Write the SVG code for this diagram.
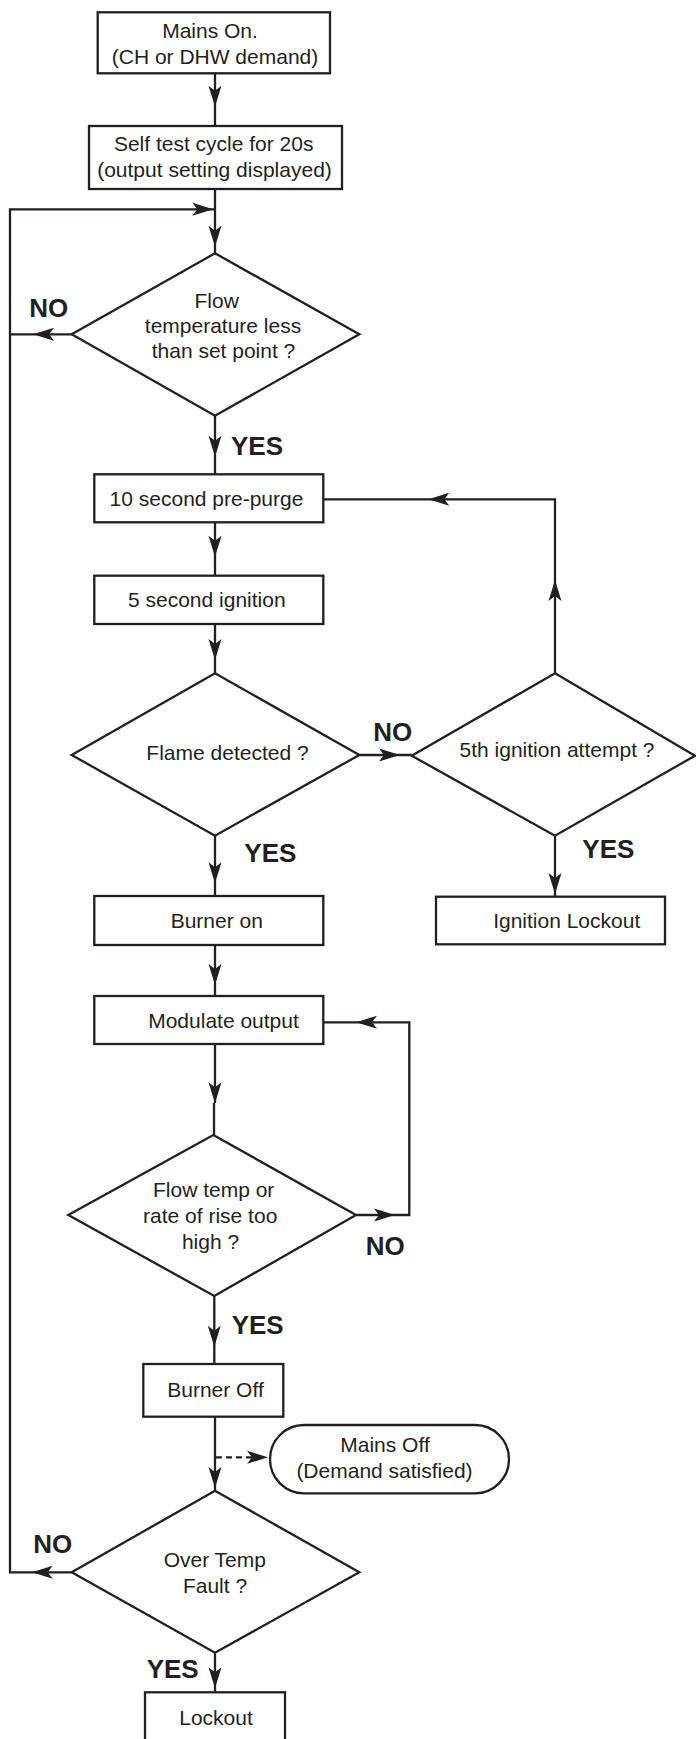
<svg xmlns="http://www.w3.org/2000/svg" xmlns:xlink="http://www.w3.org/1999/xlink" width="696" height="1739" viewBox="0 0 696 1739">
<style>
.box{fill:#fff;stroke:#231f20;stroke-width:2.3}
.ln{fill:none;stroke:#231f20;stroke-width:2.3}
.dash{fill:none;stroke:#231f20;stroke-width:2.3;stroke-dasharray:6 4}
.t{font-family:"Liberation Sans",Arial,sans-serif;font-size:21px;fill:#231f20;text-anchor:middle}
.lb{font-family:"Liberation Sans",Arial,sans-serif;font-size:26px;font-weight:bold;fill:#231f20}
.ah{fill:#231f20}
</style>
<defs>
<path id="ah" d="M0,0 L-21,-6.5 L-16,0 L-21,6.5 Z"/>
</defs>
<rect width="696" height="1739" fill="#fff"/>

<g id="connectors">
<line class="ln" x1="215" y1="73.3" x2="215" y2="126"/>
<use href="#ah" class="ah" transform="translate(215,106.7) rotate(90)"/>
<line class="ln" x1="215" y1="189" x2="215" y2="253.3"/>
<use href="#ah" class="ah" transform="translate(215,246.7) rotate(90)"/>
<polyline class="ln" points="71.7,1572.3 10,1572.3 10,209.3 215,209.3"/>
<use href="#ah" class="ah" transform="translate(31.7,1572.3) rotate(180)"/>
<use href="#ah" class="ah" transform="translate(213.3,209.3)"/>
<line class="ln" x1="71.7" y1="334.3" x2="10" y2="334.3"/>
<use href="#ah" class="ah" transform="translate(33,334.3) rotate(180)"/>
<line class="ln" x1="215" y1="415.7" x2="215" y2="474.3"/>
<use href="#ah" class="ah" transform="translate(215,456.7) rotate(90)"/>
<line class="ln" x1="215" y1="522.3" x2="215" y2="575.7"/>
<use href="#ah" class="ah" transform="translate(215,556.7) rotate(90)"/>
<line class="ln" x1="215" y1="624" x2="215" y2="673.3"/>
<use href="#ah" class="ah" transform="translate(215,660) rotate(90)"/>
<line class="ln" x1="359.3" y1="755" x2="411.7" y2="755"/>
<use href="#ah" class="ah" transform="translate(400,755)"/>
<line class="ln" x1="215" y1="835.7" x2="215" y2="896"/>
<use href="#ah" class="ah" transform="translate(215,883.3) rotate(90)"/>
<polyline class="ln" points="555,673.3 555,499.3 323.3,499.3"/>
<use href="#ah" class="ah" transform="translate(555,580) rotate(-90)"/>
<use href="#ah" class="ah" transform="translate(428.3,499.3) rotate(180)"/>
<line class="ln" x1="555" y1="835.7" x2="555" y2="896.7"/>
<use href="#ah" class="ah" transform="translate(555,894) rotate(90)"/>
<line class="ln" x1="215" y1="945" x2="215" y2="996"/>
<use href="#ah" class="ah" transform="translate(215,985) rotate(90)"/>
<line class="ln" x1="215" y1="1044" x2="215" y2="1103"/>
<line class="ln" x1="214" y1="1103" x2="214" y2="1135"/>
<use href="#ah" class="ah" transform="translate(215,1103.3) rotate(90)"/>
<polyline class="ln" points="356,1215 409.3,1215 409.3,1022.3 323.3,1022.3"/>
<use href="#ah" class="ah" transform="translate(395,1215)"/>
<use href="#ah" class="ah" transform="translate(356,1022.3) rotate(180)"/>
<line class="ln" x1="214.3" y1="1296" x2="214.3" y2="1364"/>
<use href="#ah" class="ah" transform="translate(214.3,1346.7) rotate(90)"/>
<line class="ln" x1="215" y1="1416.7" x2="215" y2="1490.7"/>
<use href="#ah" class="ah" transform="translate(215,1488) rotate(90)"/>
<line class="dash" x1="216" y1="1457.3" x2="252" y2="1457.3"/>
<use href="#ah" class="ah" transform="translate(268,1457.3)"/>
<line class="ln" x1="215" y1="1652.7" x2="215" y2="1692.3"/>
<use href="#ah" class="ah" transform="translate(215,1688.3) rotate(90)"/>
</g>

<g id="mains-on">
<rect class="box" x="97.7" y="12.3" width="232.3" height="61"/>
<text class="t" x="210" y="38">Mains On.</text>
<text class="t" x="215" y="64">(CH or DHW demand)</text>
</g>
<g id="self-test">
<rect class="box" x="89" y="126" width="253" height="63"/>
<text class="t" x="213.7" y="151">Self test cycle for 20s</text>
<text class="t" x="214.5" y="177">(output setting displayed)</text>
</g>
<g id="flow-temp-check">
<polygon class="box" points="215,253.3 359.3,334.3 215,415.7 71.7,334.3"/>
<text class="t" x="216.7" y="307.5">Flow</text>
<text class="t" x="223" y="332.5">temperature less</text>
<text class="t" x="223.5" y="358">than set point ?</text>
<text class="lb" x="29.3" y="317.3">NO</text>
<text class="lb" x="231" y="455">YES</text>
</g>
<g id="pre-purge">
<rect class="box" x="94.3" y="474.3" width="229" height="48"/>
<text class="t" x="206.5" y="505.7">10 second pre-purge</text>
</g>
<g id="ignition">
<rect class="box" x="94.3" y="575.7" width="229" height="48.3"/>
<text class="t" x="206.8" y="606.7">5 second ignition</text>
</g>
<g id="flame-detected">
<polygon class="box" points="215,673.3 359.3,755 215,835.7 71.7,755"/>
<text class="t" x="227.5" y="760">Flame detected ?</text>
<text class="lb" x="373.3" y="740.7">NO</text>
<text class="lb" x="244.3" y="862.3">YES</text>
</g>
<g id="fifth-attempt">
<polygon class="box" points="555,673.3 695,755.7 555,835.7 411.7,755.7"/>
<text class="t" x="557" y="757.3">5th ignition attempt ?</text>
<text class="lb" x="582.3" y="858.3">YES</text>
</g>
<g id="burner-on">
<rect class="box" x="94.3" y="896" width="229" height="49"/>
<text class="t" x="216.8" y="928.3">Burner on</text>
</g>
<g id="ignition-lockout">
<rect class="box" x="436" y="896.7" width="229" height="47.6"/>
<text class="t" x="566.7" y="928.3">Ignition Lockout</text>
</g>
<g id="modulate">
<rect class="box" x="94.3" y="996" width="229" height="48"/>
<text class="t" x="223.5" y="1027.7">Modulate output</text>
</g>
<g id="rate-check">
<polygon class="box" points="213.3,1135 356,1215 214.3,1296 68.3,1215"/>
<text class="t" x="213.7" y="1197.3">Flow temp or</text>
<text class="t" x="210.2" y="1223.3">rate of rise too</text>
<text class="t" x="210.5" y="1249.3">high ?</text>
<text class="lb" x="365.7" y="1255">NO</text>
<text class="lb" x="231.7" y="1334">YES</text>
</g>
<g id="burner-off">
<rect class="box" x="143.3" y="1364" width="140" height="52.7"/>
<text class="t" x="215.5" y="1396.7">Burner Off</text>
</g>
<g id="mains-off">
<rect class="box" x="270" y="1425" width="239" height="68.3" rx="34" ry="34"/>
<text class="t" x="385" y="1452.3">Mains Off</text>
<text class="t" x="384.5" y="1478.3">(Demand satisfied)</text>
</g>
<g id="over-temp">
<polygon class="box" points="215,1490.7 359.3,1572.3 215,1652.7 71.7,1572.3"/>
<text class="t" x="214.8" y="1567.3">Over Temp</text>
<text class="t" x="215" y="1593.3">Fault ?</text>
<text class="lb" x="33.3" y="1553.3">NO</text>
<text class="lb" x="146.7" y="1678.3">YES</text>
</g>
<g id="lockout">
<rect class="box" x="145" y="1692.3" width="140" height="60"/>
<text class="t" x="216" y="1725">Lockout</text>
</g>
</svg>
